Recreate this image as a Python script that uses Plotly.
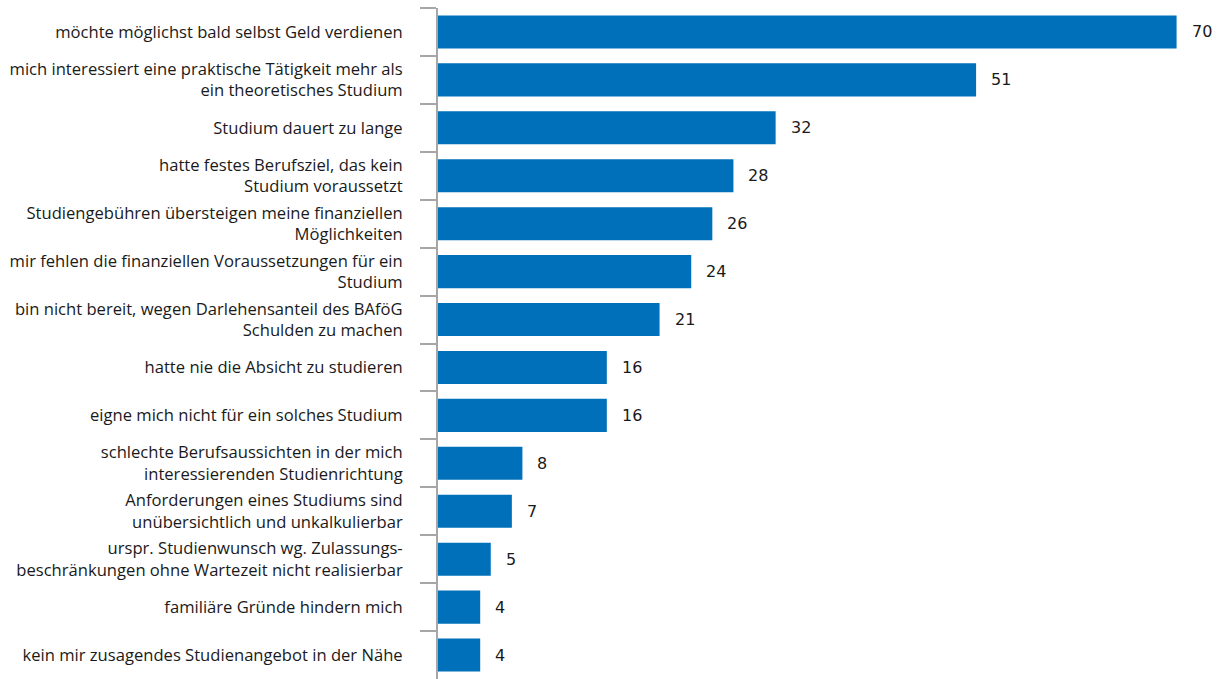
import plotly.graph_objects as go

categories = [
    "möchte möglichst bald selbst Geld verdienen",
    "mich interessiert eine praktische Tätigkeit mehr als<br>ein theoretisches Studium",
    "Studium dauert zu lange",
    "hatte festes Berufsziel, das kein<br>Studium voraussetzt",
    "Studiengebühren übersteigen meine finanziellen<br>Möglichkeiten",
    "mir fehlen die finanziellen Voraussetzungen für ein<br>Studium",
    "bin nicht bereit, wegen Darlehensanteil des BAföG<br>Schulden zu machen",
    "hatte nie die Absicht zu studieren",
    "eigne mich nicht für ein solches Studium",
    "schlechte Berufsaussichten in der mich<br>interessierenden Studienrichtung",
    "Anforderungen eines Studiums sind<br>unübersichtlich und unkalkulierbar",
    "urspr. Studienwunsch wg. Zulassungs-<br>beschränkungen ohne Wartezeit nicht realisierbar",
    "familiäre Gründe hindern mich",
    "kein mir zusagendes Studienangebot in der Nähe",
]
values = [70, 51, 32, 28, 26, 24, 21, 16, 16, 8, 7, 5, 4, 4]

BAR_COLOR = "#0070BA"
AXIS_COLOR = "#A6A6A6"
TEXT_COLOR = "#1a1a1a"

fig = go.Figure()
fig.add_trace(go.Bar(
    x=values,
    y=categories,
    orientation="h",
    marker=dict(color=BAR_COLOR, line=dict(width=0)),
    width=0.69,
    hoverinfo="skip",
))

for c, v in zip(categories, values):
    fig.add_annotation(
        x=v, y=c, text=str(v), showarrow=False,
        xanchor="left", yanchor="middle", xshift=13,
        font=dict(family="DejaVu Sans", size=16, color=TEXT_COLOR),
    )

fig.update_layout(
    width=1223, height=679,
    margin=dict(l=438, r=0, t=8, b=0),
    paper_bgcolor="white", plot_bgcolor="white",
    showlegend=False,
    font=dict(family="Open Sans", size=16.6, color=TEXT_COLOR),
    xaxis=dict(range=[0, 74.4], visible=False, showgrid=False, zeroline=False),
    yaxis=dict(
        type="category",
        autorange="reversed",
        automargin=False,
        showline=True, linecolor=AXIS_COLOR, linewidth=2,
        ticks="outside", tickson="boundaries", ticklen=16,
        tickcolor=AXIS_COLOR, tickwidth=2,
        ticklabelstandoff=30,
        showgrid=False, zeroline=False,
        tickfont=dict(family="Open Sans", size=16.6, color=TEXT_COLOR),
    ),
)

fig.write_html(
    "out.html",
    config={"displayModeBar": False},
    post_script="document.body.style.margin='0';document.body.style.overflow='hidden';",
)
